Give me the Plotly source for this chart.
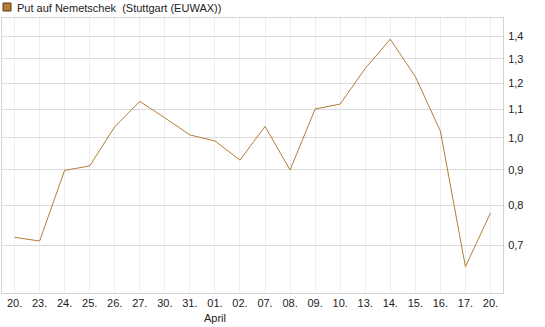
import plotly.graph_objects as go

tick_labels = ["20.", "23.", "24.", "25.", "26.", "27.", "30.", "31.", "01.<br>April", "02.",
               "07.", "08.", "09.", "10.", "13.", "14.", "15.", "16.", "17.", "20."]
values = [0.719, 0.710, 0.898, 0.911, 1.038, 1.129, 1.069, 1.010, 0.990, 0.929,
          1.039, 0.899, 1.101, 1.119, 1.260, 1.388, 1.226, 1.023, 0.652, 0.779]
y_ticks = [0.7, 0.8, 0.9, 1.0, 1.1, 1.2, 1.3, 1.4]
y_tick_text = ["0,7", "0,8", "0,9", "1,0", "1,1", "1,2", "1,3", "1,4"]
series_name = "Put auf Nemetschek  (Stuttgart (EUWAX))"

W, H = 545, 327
L, R, T, B = 2, 42, 18, 34
pw, ph = W - L - R, H - T - B

def px_x(px):
    return (px - L) / pw

def px_y(py):
    return (H - B - py) / ph

color = "#B27D36"
x = list(range(len(values)))

fig = go.Figure()
fig.add_trace(go.Scatter(x=x, y=values, mode="lines",
                         line=dict(color=color, width=1), showlegend=False,
                         hoverinfo="skip"))

fig.update_layout(
    width=W, height=H,
    margin=dict(l=L, r=R, t=T, b=B, pad=0),
    paper_bgcolor="white", plot_bgcolor="white",
    font=dict(family="Liberation Sans, Arial, sans-serif", size=11, color="#222"),
    xaxis=dict(range=[-0.5, len(values) - 0.5], tickvals=x, ticktext=tick_labels,
               showgrid=True, gridcolor="#eeeeee", gridwidth=1,
               showline=True, linecolor="#d4d4d4", linewidth=1, mirror=True,
               ticks="", zeroline=False, tickfont=dict(size=11, color="#222")),
    yaxis=dict(type="log", side="right", range=[-0.2237, 0.173],
               tickvals=y_ticks, ticktext=y_tick_text,
               showgrid=True, gridcolor="#dcdcdc", gridwidth=1,
               showline=True, linecolor="#d4d4d4", linewidth=1, mirror=True,
               ticks="outside", ticklen=2, tickcolor="white",
               zeroline=False, tickfont=dict(size=11, color="#222")),
    shapes=[dict(type="rect", xref="paper", yref="paper",
                 x0=px_x(3), x1=px_x(11), y0=px_y(11), y1=px_y(3),
                 fillcolor=color, line=dict(color="#5a3d15", width=1))],
    annotations=[dict(text=series_name, xref="paper", yref="paper",
                      x=px_x(15), y=px_y(7.5), xanchor="left", yanchor="middle",
                      showarrow=False, font=dict(size=11, color="#222"))],
)

fig.write_html("out.html")
